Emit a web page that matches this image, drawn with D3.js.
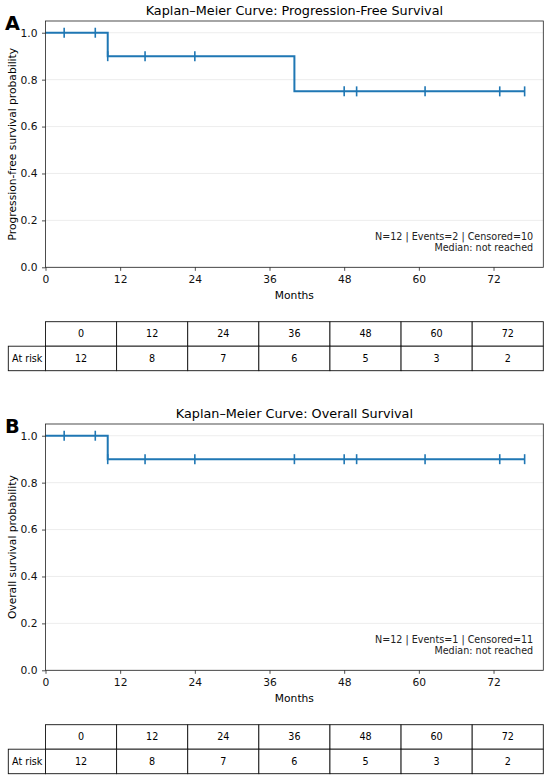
<!DOCTYPE html>
<html>
<head>
<meta charset="utf-8">
<script src="https://cdn.jsdelivr.net/npm/d3@7"></script>
<style>
	body { margin: 0; background: white; }
	text { font-family: "DejaVu Sans", sans-serif; }
</style>
</head>
<body>
<div id="km"></div>
<script>
// at-risk table
let riskMonths = [0, 12, 24, 36, 48, 60, 72];
let atRisk = [12, 8, 7, 6, 5, 3, 2];

// progression-free survival steps and censor marks
let pfsTimes = [0, 10, 40, 77];
let pfsSurv = [1.0, 0.9, 0.75, 0.75];
let pfsCensorTimes = [3, 8, 10, 16, 24, 48, 50, 61, 73, 77];
let pfsCensorSurv = [1.0, 1.0, 0.9, 0.9, 0.9, 0.75, 0.75, 0.75, 0.75, 0.75];

// overall survival steps and censor marks
let osTimes = [0, 10, 77];
let osSurv = [1.0, 0.9, 0.9];
let osCensorTimes = [3, 8, 10, 16, 24, 40, 48, 50, 61, 73, 77];
let osCensorSurv = [1.0, 1.0, 0.9, 0.9, 0.9, 0.9, 0.9, 0.9, 0.9, 0.9, 0.9];

let xTicks = [0, 12, 24, 36, 48, 60, 72];
let yTicks = [0, 0.2, 0.4, 0.6, 0.8, 1.0];

let panels = [
	{
		letter: "A",
		title: "Kaplan\u2013Meier Curve: Progression-Free Survival",
		ylabel: "Progression-free survival probability",
		times: pfsTimes, surv: pfsSurv,
		cTimes: pfsCensorTimes, cSurv: pfsCensorSurv,
		note: ["N=12 | Events=2 | Censored=10", "Median: not reached"]
	},
	{
		letter: "B",
		title: "Kaplan\u2013Meier Curve: Overall Survival",
		ylabel: "Overall survival probability",
		times: osTimes, surv: osSurv,
		cTimes: osCensorTimes, cSurv: osCensorSurv,
		note: ["N=12 | Events=1 | Censored=11", "Median: not reached"]
	}
];

let width = 550;
let height = 779;
let blue = "#1f77b4";

let margin = {
	top: 21,
	left: 45.5,
	right: 6.7,
	plotH: 246.3
};

let svg = d3.select("#km")
			.append("svg")
			.attr("width", width)
			.attr("height", height);

svg.append("rect")
	.attr("width", width)
	.attr("height", height)
	.attr("fill", "white");

let xScale = d3.scaleLinear()
				.domain([0, 80])
				.range([margin.left, width - margin.right]);

panels.forEach((p, i) => drawPanel(p, i * 403));

function drawPanel(p, offset){
	let top = margin.top + offset;
	let bottom = top + margin.plotH;

	let yScale = d3.scaleLinear()
					.domain([0, 1.05])
					.range([bottom, top]);

	let g = svg.append("g");

	// grid
	g.selectAll(".grid")
		.data(yTicks)
		.enter()
		.append("line")
		.attr("x1", xScale.range()[0])
		.attr("x2", xScale.range()[1])
		.attr("y1", d => yScale(d))
		.attr("y2", d => yScale(d))
		.attr("stroke", "#e8e8e8")
		.attr("stroke-width", 0.8);

	// survival step line
	let pts = p.times.map((t, k) => [t, p.surv[k]]);
	let line = d3.line()
				.x(d => xScale(d[0]))
				.y(d => yScale(d[1]))
				.curve(d3.curveStepAfter);

	g.append("path")
		.attr("d", line(pts))
		.attr("fill", "none")
		.attr("stroke", blue)
		.attr("stroke-width", 2);

	// censor ticks
	g.selectAll(".cens")
		.data(p.cTimes.map((t, k) => [t, p.cSurv[k]]))
		.enter()
		.append("line")
		.attr("x1", d => xScale(d[0]))
		.attr("x2", d => xScale(d[0]))
		.attr("y1", d => yScale(d[1]) - 5)
		.attr("y2", d => yScale(d[1]) + 5)
		.attr("stroke", blue)
		.attr("stroke-width", 1.6);

	// axes
	let xAxis = d3.axisBottom(xScale)
					.tickValues(xTicks)
					.tickSize(3.5)
					.tickPadding(4.5);
	let yAxis = d3.axisLeft(yScale)
					.tickValues(yTicks)
					.tickFormat(d3.format(".1f"))
					.tickSize(3.5)
					.tickPadding(4.5);

	let gx = g.append("g")
				.attr("transform", `translate(0,${bottom})`)
				.call(xAxis);
	let gy = g.append("g")
				.attr("transform", `translate(${margin.left},0)`)
				.call(yAxis);

	[gx, gy].forEach(a => {
		a.select(".domain").remove();
		a.selectAll("line").attr("stroke", "#222").attr("stroke-width", 0.8);
		a.selectAll("text")
			.attr("fill", "#111")
			.style("font-size", "10.7px")
			.style("font-family", "DejaVu Sans");
	});

	// frame
	g.append("rect")
		.attr("x", xScale.range()[0])
		.attr("y", top)
		.attr("width", xScale.range()[1] - xScale.range()[0])
		.attr("height", margin.plotH)
		.attr("fill", "none")
		.attr("stroke", "#222")
		.attr("stroke-width", 0.8);

	// labels
	g.append("text")
		.attr("x", (xScale.range()[0] + xScale.range()[1]) / 2)
		.attr("y", top - 5.8)
		.attr("text-anchor", "middle")
		.style("font-size", "12.8px")
		.text(p.title);

	g.append("text")
		.attr("x", 5)
		.attr("y", top + 9.3)
		.style("font-size", "19.3px")
		.style("font-weight", "bold")
		.text(p.letter);

	g.append("text")
		.attr("x", (xScale.range()[0] + xScale.range()[1]) / 2)
		.attr("y", bottom + 31.2)
		.attr("text-anchor", "middle")
		.style("font-size", "10.7px")
		.text("Months");

	g.append("text")
		.attr("transform", `translate(16,${(top + bottom) / 2}) rotate(-90)`)
		.attr("text-anchor", "middle")
		.style("font-size", "10.7px")
		.text(p.ylabel);

	g.selectAll(".note")
		.data(p.note)
		.enter()
		.append("text")
		.attr("x", 533.2)
		.attr("y", (d, k) => bottom - 27.1 + k * 11)
		.attr("text-anchor", "end")
		.attr("fill", "#222")
		.style("font-size", "9.6px")
		.text(d => d);

	drawTable(g, bottom + 54.4);
}

function drawTable(g, y0){
	let rowH = 24.5;
	let colW = (xScale.range()[1] - xScale.range()[0]) / riskMonths.length;
	let labelX = 8.3;

	let cols = riskMonths.map((m, k) => ({m: m, n: atRisk[k], x: xScale.range()[0] + k * colW}));

	// cells
	[0, 1].forEach(r => {
		g.selectAll(".cell" + r)
			.data(cols)
			.enter()
			.append("rect")
			.attr("x", d => d.x)
			.attr("y", y0 + r * rowH)
			.attr("width", colW)
			.attr("height", rowH)
			.attr("fill", "white")
			.attr("stroke", "#111")
			.attr("stroke-width", 0.9);
	});

	g.append("rect")
		.attr("x", labelX)
		.attr("y", y0 + rowH)
		.attr("width", xScale.range()[0] - labelX)
		.attr("height", rowH)
		.attr("fill", "white")
		.attr("stroke", "#111")
		.attr("stroke-width", 0.9);

	g.selectAll(".hdr")
		.data(cols)
		.enter()
		.append("text")
		.attr("x", d => d.x + colW / 2)
		.attr("y", y0 + rowH / 2 + 3.5)
		.attr("text-anchor", "middle")
		.style("font-size", "9.6px")
		.text(d => d.m);

	g.selectAll(".val")
		.data(cols)
		.enter()
		.append("text")
		.attr("x", d => d.x + colW / 2)
		.attr("y", y0 + rowH * 1.5 + 3.5)
		.attr("text-anchor", "middle")
		.style("font-size", "9.6px")
		.text(d => d.n);

	g.append("text")
		.attr("x", labelX + 3.7)
		.attr("y", y0 + rowH * 1.5 + 3.5)
		.style("font-size", "9.6px")
		.text("At risk");
}
</script>
</body>
</html>
